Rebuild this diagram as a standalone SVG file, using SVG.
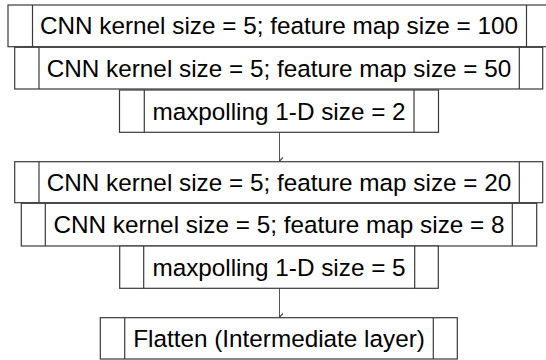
<svg xmlns="http://www.w3.org/2000/svg" width="546" height="360" viewBox="0 0 546 360">
<defs>
<style>
.b{fill:#fff;stroke:#3a3a3a;stroke-width:1.2}
.d{stroke:#3a3a3a;stroke-width:1.2}
.t{font-family:"Liberation Sans",Arial,sans-serif;font-size:24.3px;fill:#000;text-anchor:middle}
.c{stroke:#555;stroke-width:1;fill:none}
</style>
<marker id="ah" viewBox="0 0 10 10" refX="5" refY="9" markerWidth="10" markerHeight="10" markerUnits="userSpaceOnUse" orient="auto-start-reverse">
<path d="M1.5,5.5 L5,9 L8.5,5.5" fill="none" stroke="#444" stroke-width="1.2"/>
</marker>
</defs>
<rect width="546" height="360" fill="#fff"/>
<g id="connectors">
<line class="c" x1="279.5" y1="132.5" x2="279.5" y2="161" marker-end="url(#ah)"/>
<line class="c" x1="279.5" y1="288.5" x2="279.5" y2="317" marker-end="url(#ah)"/>
</g>
<g id="n1">
<rect class="b" x="8" y="5" width="545" height="41.7"/>
<line class="d" x1="32.5" y1="5" x2="32.5" y2="46.7"/>
<line class="d" x1="526.5" y1="5" x2="526.5" y2="46.7"/>
<text class="t" x="279" y="34">CNN kernel size = 5; feature map size = 100</text>
</g>
<g id="n2">
<rect class="b" x="14.7" y="47.3" width="528" height="41.7"/>
<line class="d" x1="39" y1="47.3" x2="39" y2="89"/>
<line class="d" x1="519.3" y1="47.3" x2="519.3" y2="89"/>
<text class="t" x="279" y="77">CNN kernel size = 5; feature map size = 50</text>
</g>
<g id="n3">
<rect class="b" x="119.5" y="90" width="319" height="42.3"/>
<line class="d" x1="144.3" y1="90" x2="144.3" y2="132.3"/>
<line class="d" x1="414" y1="90" x2="414" y2="132.3"/>
<text class="t" x="279" y="119.5">maxpolling 1-D size = 2</text>
</g>
<g id="n4">
<rect class="b" x="14.7" y="161.7" width="528" height="41"/>
<line class="d" x1="39" y1="161.7" x2="39" y2="202.7"/>
<line class="d" x1="519.3" y1="161.7" x2="519.3" y2="202.7"/>
<text class="t" x="279" y="191">CNN kernel size = 5; feature map size = 20</text>
</g>
<g id="n5">
<rect class="b" x="21.3" y="203.3" width="515.4" height="42.7"/>
<line class="d" x1="45.3" y1="203.3" x2="45.3" y2="246"/>
<line class="d" x1="512.3" y1="203.3" x2="512.3" y2="246"/>
<text class="t" x="279" y="233">CNN kernel size = 5; feature map size = 8</text>
</g>
<g id="n6">
<rect class="b" x="119.7" y="246" width="318.6" height="42.3"/>
<line class="d" x1="143.7" y1="246" x2="143.7" y2="288.3"/>
<line class="d" x1="414.7" y1="246" x2="414.7" y2="288.3"/>
<text class="t" x="279" y="275.5">maxpolling 1-D size = 5</text>
</g>
<g id="n7">
<rect class="b" x="100.3" y="317.7" width="357" height="41.3"/>
<line class="d" x1="124.7" y1="317.7" x2="124.7" y2="359"/>
<line class="d" x1="433.3" y1="317.7" x2="433.3" y2="359"/>
<text class="t" x="279" y="347">Flatten (Intermediate layer)</text>
</g>
</svg>
